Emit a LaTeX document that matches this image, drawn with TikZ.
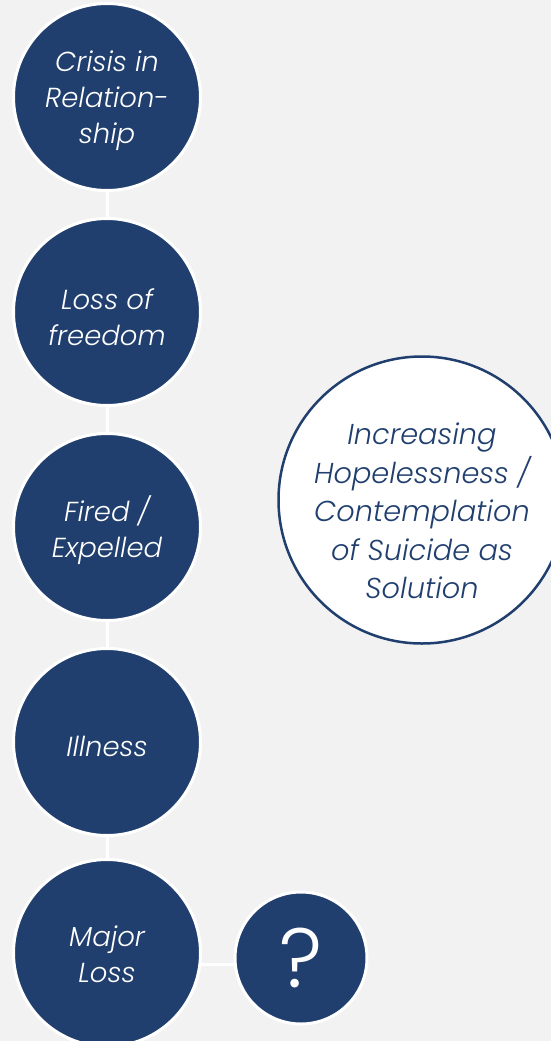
\documentclass[tikz,border=0pt]{standalone}
\usepackage{fontspec}
\setmainfont{Poppins}[ItalicFont={Poppins Light Italic},UprightFont={Poppins Light}]
\usetikzlibrary{backgrounds}
\definecolor{navy}{RGB}{32,63,110}
\definecolor{bg}{RGB}{242,242,242}
\tikzset{
  bluecirc/.style={circle, fill=navy, draw=white, line width=3pt, minimum size=187pt, inner sep=0pt},
  qcirc/.style={circle, fill=navy, draw=white, line width=3pt, minimum size=132pt, inner sep=0pt,
    text=white, font=\fontsize{84}{84}\selectfont},
  whitecirc/.style={circle, fill=white, draw=navy, line width=2.5pt, minimum size=287pt, inner sep=0pt},
  bluetext/.style={text=white, align=center, inner sep=0pt, font=\fontsize{27.5}{36}\selectfont\itshape},
  whitetext/.style={text=navy, align=center, inner sep=0pt, font=\fontsize{28.8}{38.5}\selectfont\itshape},
  link/.style={draw=white, line width=3pt}
}
\begin{document}
\begin{tikzpicture}[x=1pt,y=-1pt]
\useasboundingbox (0,0) rectangle (551,1041);
\clip (0,0) rectangle (551,1041);
\node[bluecirc] (c1) at (107,97) {};
\node[bluecirc] (c2) at (107,312) {};
\node[bluecirc] (c3) at (107,527) {};
\node[bluecirc] (c4) at (107,742) {};
\node[bluecirc] (c5) at (107,953) {};
\node[qcirc] (q) at (301,958) {?};
\node[whitecirc] (h) at (422,500) {};
\node[bluetext] (t1) at ([yshift=-4pt]c1.center) {Crisis in\\Relation-\\ship};
\node[bluetext] (t2) at ([yshift=-5pt]c2.center) {Loss of\\freedom};
\node[bluetext] (t3) at ([yshift=-3pt]c3.center) {Fired /\\Expelled};
\node[bluetext] (t4) at ([yshift=-4pt]c4.center) {Illness};
\node[bluetext] (t5) at ([yshift=-1pt]c5.center) {Major\\Loss};
\node[whitetext] (th) at ([yshift=-11pt]h.center) {Increasing\\Hopelessness /\\Contemplation\\of Suicide as\\Solution};
\begin{scope}[on background layer]
\fill[bg] (0,0) rectangle (551,1041);
\draw[link] (c1) -- (c2);
\draw[link] (c2) -- (c3);
\draw[link] (c3) -- (c4);
\draw[link] (c4) -- (c5);
\draw[link] ([yshift=-11pt]c5.center) -- ([yshift=-6pt]q.center);
\end{scope}
\end{tikzpicture}
\end{document}
